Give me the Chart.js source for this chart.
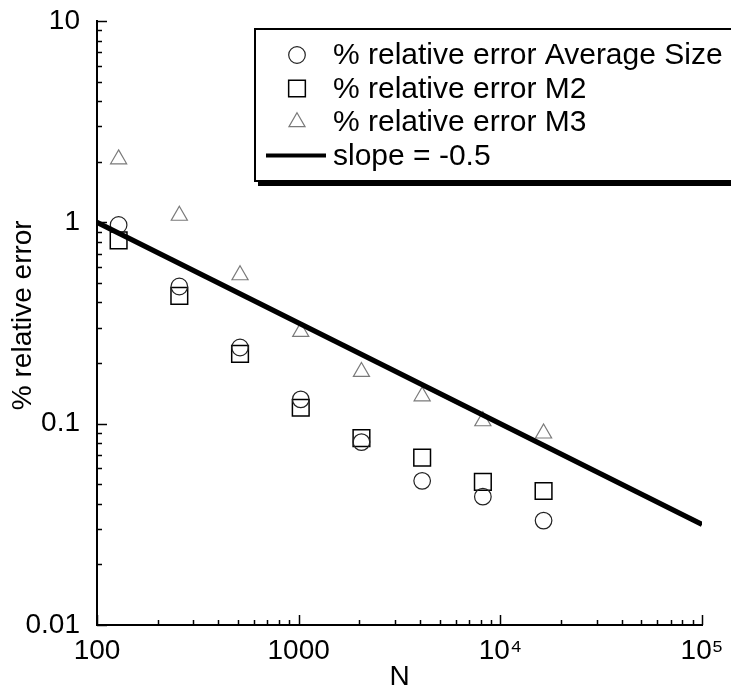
<!DOCTYPE html>
<html>
<head>
<meta charset="utf-8">
<script src="https://cdn.jsdelivr.net/npm/chart.js@4.4.0/dist/chart.umd.min.js"></script>
<style>
  html, body { margin: 0; padding: 0; background: #fff; }
  #errChart { display: block; }
</style>
</head>
<body>
<canvas id="errChart" width="731" height="690"></canvas>
<script>
// grid sizes
var nValues = [128, 256, 512, 1024, 2048, 4096, 8192, 16384];
// % relative error
var avgSizeErr = [0.97, 0.48, 0.239, 0.132, 0.081, 0.052, 0.0434, 0.033];
var m2Err = [0.813, 0.431, 0.222, 0.12, 0.0848, 0.0678, 0.0514, 0.0463];
var m3Err = [2.06, 1.08, 0.547, 0.286, 0.181, 0.137, 0.103, 0.0895];
// reference slope line
var slopeN = [100, 100000];
var slopeErr = [1, 0.0316];

var seriesLabels = ["% relative error Average Size", "% relative error M2", "% relative error M3", "slope = -0.5"];

var xTickValues = [100, 1000, 10000, 100000];
var xTickLabels = ["100", "1000", "10\u2074", "10\u2075"];
var yTickValues = [0.01, 0.1, 1, 10];
var yTickLabels = ["0.01", "0.1", "1", "10"];

var FONT = "'Liberation Sans', Arial, sans-serif";
Chart.defaults.font.family = FONT;
Chart.defaults.color = "#000";

function toPoints(xs, ys) {
  return xs.map(function (x, i) { return { x: x, y: ys[i] }; });
}

// tick marks pointing into the plot, long at decades, short in between
var innerTicks = {
  id: "innerTicks",
  afterDraw: function (chart) {
    var ctx = chart.ctx;
    var area = chart.chartArea;
    ctx.save();
    ctx.strokeStyle = "#000";
    ctx.lineWidth = 1.5;
    ["x", "y"].forEach(function (id) {
      var scale = chart.scales[id];
      var lo = Math.floor(Math.log10(scale.min));
      var hi = Math.ceil(Math.log10(scale.max));
      for (var e = lo; e <= hi; e++) {
        for (var k = 1; k <= 9; k++) {
          var v = k * Math.pow(10, e);
          if (v < scale.min * 0.999 || v > scale.max * 1.001) continue;
          var len = k === 1 ? 10 : 5;
          var p = Math.round(scale.getPixelForValue(v)) + 0.5;
          ctx.beginPath();
          if (id === "x") {
            ctx.moveTo(p, area.bottom);
            ctx.lineTo(p, area.bottom - len);
          } else {
            ctx.moveTo(area.left, p);
            ctx.lineTo(area.left + len, p);
          }
          ctx.stroke();
        }
      }
    });
    ctx.restore();
  }
};

// boxed legend with a drop shadow, as in the original figure
var boxLegend = {
  id: "boxLegend",
  afterDraw: function (chart) {
    var ctx = chart.ctx;
    var bx = 255, by = 29, bw = 495, bh = 152;
    ctx.save();
    ctx.fillStyle = "#000";
    ctx.fillRect(bx + 3, by + 4, bw, bh + 1);
    ctx.fillStyle = "#fff";
    ctx.fillRect(bx, by, bw, bh);
    ctx.strokeStyle = "#000";
    ctx.lineWidth = 2;
    ctx.strokeRect(bx, by, bw, bh);

    ctx.font = "30px " + FONT;
    ctx.textBaseline = "middle";
    chart.data.datasets.forEach(function (ds, i) {
      var y = 55 + i * 33.5;
      if (ds.showLine) {
        ctx.strokeStyle = ds.borderColor;
        ctx.lineWidth = 4;
        ctx.beginPath();
        ctx.moveTo(266, y);
        ctx.lineTo(326, y);
        ctx.stroke();
      } else {
        ctx.strokeStyle = ds.borderColor;
        ctx.fillStyle = "rgba(0,0,0,0)";
        ctx.lineWidth = ds.borderWidth;
        Chart.helpers.drawPoint(ctx, {
          pointStyle: ds.pointStyle,
          radius: ds.pointRadius,
          rotation: 0,
          borderWidth: ds.borderWidth
        }, 297, y);
      }
      ctx.fillStyle = "#000";
      ctx.fillText(ds.label, 333, y + 1);
    });
    ctx.restore();
  }
};

var ctx = document.getElementById("errChart");
var myChart = new Chart(ctx, {
  type: "scatter",
  data: {
    datasets: [{
      label: seriesLabels[0],
      data: toPoints(nValues, avgSizeErr),
      pointStyle: "circle",
      pointRadius: 8.3,
      borderColor: "#222",
      borderWidth: 1.2,
      backgroundColor: "rgba(0,0,0,0)",
      showLine: false
    }, {
      label: seriesLabels[1],
      data: toPoints(nValues, m2Err),
      pointStyle: "rect",
      pointRadius: 11.8,
      borderColor: "#000",
      borderWidth: 1.5,
      backgroundColor: "rgba(0,0,0,0)",
      showLine: false
    }, {
      label: seriesLabels[2],
      data: toPoints(nValues, m3Err),
      pointStyle: "triangle",
      pointRadius: 9.3,
      borderColor: "#7a7a7a",
      borderWidth: 1.2,
      backgroundColor: "rgba(0,0,0,0)",
      showLine: false
    }, {
      label: seriesLabels[3],
      data: toPoints(slopeN, slopeErr),
      showLine: true,
      borderColor: "#000",
      borderWidth: 5,
      pointRadius: 0,
      order: -1
    }]
  },
  options: {
    responsive: false,
    animation: false,
    layout: { padding: { top: 21, right: 29, left: 0, bottom: 0 } },
    plugins: {
      legend: { display: false },
      tooltip: { enabled: false }
    },
    scales: {
      x: {
        type: "logarithmic",
        position: "bottom",
        min: 100,
        max: 100000,
        afterBuildTicks: function (scale) {
          scale.ticks = xTickValues.map(function (v) { return { value: v }; });
        },
        afterFit: function (scale) { scale.height = 65; },
        // outer tick marks kept invisible, they only space the labels
        grid: { drawOnChartArea: false, drawTicks: true, tickLength: 9, tickColor: "rgba(0,0,0,0)" },
        border: { display: true, color: "#000", width: 2 },
        ticks: {
          autoSkip: false,
          maxRotation: 0,
          padding: 0,
          font: { size: 28 },
          callback: function (value) {
            var i = xTickValues.indexOf(value);
            return i >= 0 ? xTickLabels[i] : "";
          }
        },
        title: {
          display: true,
          text: "N",
          font: { size: 28, lineHeight: 0.93 },
          padding: { top: 0, bottom: 0 }
        }
      },
      y: {
        type: "logarithmic",
        position: "left",
        min: 0.01,
        max: 10,
        afterBuildTicks: function (scale) {
          scale.ticks = yTickValues.map(function (v) { return { value: v }; });
        },
        afterFit: function (scale) { scale.width = 97; },
        grid: { drawOnChartArea: false, drawTicks: true, tickLength: 17, tickColor: "rgba(0,0,0,0)" },
        border: { display: true, color: "#000", width: 2 },
        ticks: {
          autoSkip: false,
          padding: 0,
          font: { size: 28 },
          callback: function (value) {
            var i = yTickValues.indexOf(value);
            return i >= 0 ? yTickLabels[i] : "";
          }
        },
        title: {
          display: true,
          text: "\u00a0\u00a0% relative error",
          font: { size: 28 },
          padding: { top: 6, bottom: 0 }
        }
      }
    }
  },
  plugins: [innerTicks, boxLegend]
});
</script>
</body>
</html>
